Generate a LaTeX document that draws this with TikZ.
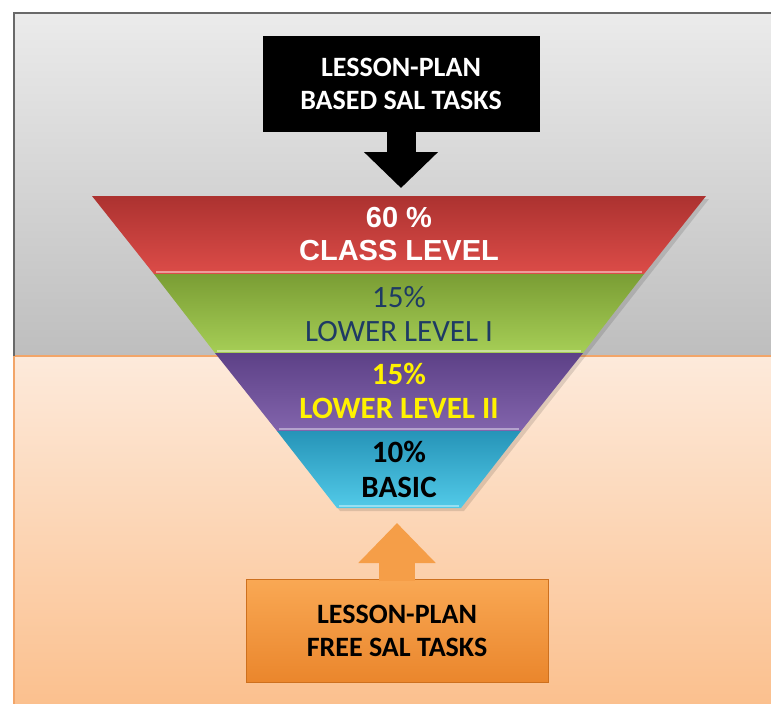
\documentclass[tikz,border=0pt]{standalone}
\usepackage{fontspec}
\setmainfont{Carlito}
\newfontfamily\arialfont{Liberation Sans}
\usepackage{tikz}
\usetikzlibrary{shapes,arrows.meta,positioning,calc}
\definecolor{greytop}{RGB}{235,235,235}
\definecolor{greybot}{RGB}{190,190,190}
\definecolor{peachtop}{RGB}{253,234,219}
\definecolor{peachbot}{RGB}{251,191,140}
\definecolor{frameline}{RGB}{105,105,105}
\definecolor{peachline}{RGB}{242,165,105}
\definecolor{redtop}{RGB}{172,50,48}
\definecolor{redbot}{RGB}{220,76,72}
\definecolor{greentop}{RGB}{122,157,52}
\definecolor{greenbot}{RGB}{166,206,86}
\definecolor{purpletop}{RGB}{93,65,135}
\definecolor{purplebot}{RGB}{130,100,172}
\definecolor{bluetop}{RGB}{38,148,184}
\definecolor{bluebot}{RGB}{82,202,232}
\definecolor{navytext}{RGB}{30,58,100}
\definecolor{orangetop}{RGB}{249,168,84}
\definecolor{orangebot}{RGB}{234,134,44}
\definecolor{orangeline}{RGB}{205,112,30}

\begin{document}
\begin{tikzpicture}[x=1pt,y=-1pt,
        lvltext/.style={align=center, font=\fontsize{31}{34}\selectfont},
        taskbox/.style={minimum width=277pt, minimum height=96pt, align=center,
            font=\bfseries\fontsize{28}{33}\selectfont}]
    \useasboundingbox (0,0) rectangle (771,704);
    \fill[white] (0,0) rectangle (771,704);
    % background halves
    \begin{scope}
        \clip (0,0) rectangle (771,704);
        \shade[top color=greytop, bottom color=greybot] (14,13) rectangle (790,356);
        \shade[top color=peachtop, bottom color=peachbot] (14,356) rectangle (790,714);
        \draw[peachline, line width=1.2pt] (14,714) -- (14,356) -- (790,356);
        \draw[frameline, line width=1.5pt] (14,356) -- (14,13) -- (790,13);
    \end{scope}

    % funnel
    \fill[black, opacity=0.12] (95,199) -- (709,199) -- (464,511) -- (340,511) -- cycle;
    \shade[top color=redtop, bottom color=redbot] (92,196) -- (706,196) -- (644,274) -- (154,274) -- cycle;
    \shade[top color=greentop, bottom color=greenbot] (154,274) -- (644,274) -- (583,353) -- (215,353) -- cycle;
    \shade[top color=purpletop, bottom color=purplebot] (215,353) -- (583,353) -- (521,431) -- (277,431) -- cycle;
    \shade[top color=bluetop, bottom color=bluebot] (277,431) -- (521,431) -- (461,508) -- (337,508) -- cycle;
    \draw[redbot!55!white, line width=2pt] (156,272) -- (642,272);
    \draw[greenbot!60!white, line width=2pt] (217,351) -- (581,351);
    \draw[purplebot!60!white, line width=2pt] (279,429) -- (519,429);
    \draw[bluebot!60!white, line width=2pt] (339,506) -- (459,506);

    \node[lvltext, text=white, font=\arialfont\bfseries\fontsize{29}{33}\selectfont] (classlvl) at (399,234) {60 \%\\CLASS LEVEL};
    \node[lvltext, text=navytext] (lowerone) at (399,314) {15\%\\LOWER LEVEL I};
    \node[lvltext, text=yellow, font=\bfseries\fontsize{31}{34}\selectfont] (lowertwo) at (399,391) {15\%\\LOWER LEVEL II};
    \node[lvltext, text=black, font=\bfseries\fontsize{31}{35}\selectfont] (basic) at (399,469) {10\%\\BASIC};
    \coordinate (ftop) at (399,196);
    \coordinate (fbot) at (399,508);

    % task boxes with block arrows
    \node[taskbox, fill=black, text=white] (based) at (401,84) {LESSON-PLAN\\BASED SAL TASKS};
    \draw[black, line width=29pt, -{Triangle[length=36pt,width=72pt]}, shorten >=8pt]
        ($(based.south)+(0,-2)$) -- (based.south |- ftop);

    \node[taskbox, minimum width=302pt, minimum height=103pt, top color=orangetop,
        bottom color=orangebot, draw=orangeline, text=black] (free) at (397,631) {LESSON-PLAN\\FREE SAL TASKS};
    \draw[orangetop!70!orangebot, line width=36pt, -{Triangle[length=40pt,width=75pt]}, shorten >=15pt]
        ($(free.north)+(0,2)$) -- (free.north |- fbot);
\end{tikzpicture}
\end{document}
